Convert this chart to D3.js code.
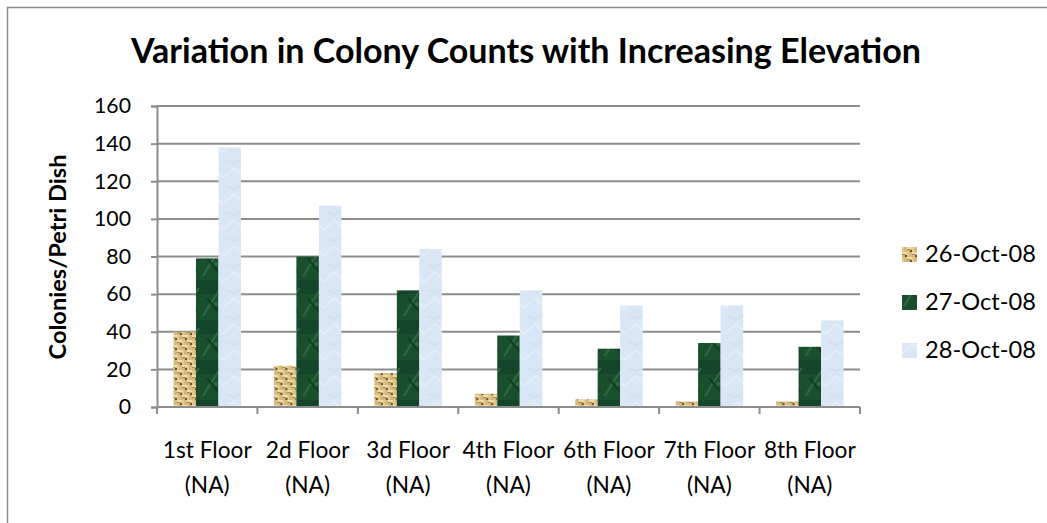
<!DOCTYPE html>
<html>
<head>
<meta charset="utf-8">
<script src="https://cdn.jsdelivr.net/npm/d3@7/dist/d3.min.js"></script>
<style>
  body { margin: 0; background: #fff; }
  text { font-family: Lato, "Open Sans", sans-serif; fill: #000; }
</style>
</head>
<body>
<div id="chart"></div>
<script>
// chart data
var floors = ["1st Floor", "2d Floor", "3d Floor", "4th Floor", "6th Floor", "7th Floor", "8th Floor"];
var floorNotes = ["(NA)", "(NA)", "(NA)", "(NA)", "(NA)", "(NA)", "(NA)"];
var seriesNames = ["26-Oct-08", "27-Oct-08", "28-Oct-08"];
var oct26 = [40, 22, 18, 7, 4, 3, 3];
var oct27 = [79, 80, 62, 38, 31, 34, 32];
var oct28 = [138, 107, 84, 62, 54, 54, 46];
var yTicks = [0, 20, 40, 60, 80, 100, 120, 140, 160];

var W = 1047, H = 523;
var plot = { left: 157, right: 860, top: 106, bottom: 407 };

var svg = d3.select("#chart").append("svg")
    .attr("width", W)
    .attr("height", H);

// font size that makes `sample` come out `target` px wide (Calibri is not installed)
function fitSize(sample, target, weight) {
    var t = svg.append("text").style("font-size", "100px").style("font-weight", weight || "normal").text(sample);
    var w = t.node().getComputedTextLength();
    t.remove();
    return (100 * target / w).toFixed(2) + "px";
}

// fill textures (rough imitation of the Excel picture fills)
var defs = svg.append("defs");

var tan = defs.append("pattern").attr("id", "texTan")
    .attr("patternUnits", "userSpaceOnUse").attr("width", 10).attr("height", 10);
tan.append("rect").attr("width", 10).attr("height", 10).attr("fill", "#d4ba80");
tan.append("rect").attr("x", 0).attr("y", 0).attr("width", 5).attr("height", 2).attr("fill", "#f0dea8");
tan.append("rect").attr("x", 5).attr("y", 5).attr("width", 5).attr("height", 2).attr("fill", "#f0dea8");
tan.append("rect").attr("x", 5).attr("y", 0).attr("width", 2).attr("height", 5).attr("fill", "#e3cb8e");
tan.append("rect").attr("x", 0).attr("y", 5).attr("width", 2).attr("height", 5).attr("fill", "#e3cb8e");
tan.append("rect").attr("x", 3).attr("y", 3).attr("width", 2).attr("height", 2).attr("fill", "#6e5028");
tan.append("rect").attr("x", 8).attr("y", 8).attr("width", 2).attr("height", 2).attr("fill", "#6e5028");
tan.append("rect").attr("x", 0).attr("y", 2).attr("width", 3).attr("height", 1).attr("fill", "#a4844b");
tan.append("rect").attr("x", 5).attr("y", 7).attr("width", 3).attr("height", 1).attr("fill", "#a4844b");

var green = defs.append("pattern").attr("id", "texGreen")
    .attr("patternUnits", "userSpaceOnUse").attr("width", 22).attr("height", 40);
green.append("rect").attr("width", 22).attr("height", 40).attr("fill", "#1a4f2d");
green.append("rect").attr("x", 0).attr("y", 0).attr("width", 22).attr("height", 14).attr("fill", "#14442a");
green.append("path").attr("d", "M2,36 Q10,22 20,8").attr("stroke", "#2f6b42").attr("stroke-width", 2).attr("fill", "none");
green.append("path").attr("d", "M6,18 Q12,26 18,32").attr("stroke", "#0f3a1f").attr("stroke-width", 2).attr("fill", "none");
green.append("circle").attr("cx", 15).attr("cy", 24).attr("r", 2).attr("fill", "#3a7a4e").attr("opacity", 0.7);

var blue = defs.append("pattern").attr("id", "texBlue")
    .attr("patternUnits", "userSpaceOnUse").attr("width", 22).attr("height", 26);
blue.append("rect").attr("width", 22).attr("height", 26).attr("fill", "#d9e6f5");
blue.append("path").attr("d", "M0,22 L11,12 L22,22").attr("stroke", "#e4eefa").attr("stroke-width", 2).attr("fill", "none");
blue.append("path").attr("d", "M3,4 L11,7 L19,3").attr("stroke", "#d0dff1").attr("stroke-width", 1.5).attr("fill", "none");

var fills = ["url(#texTan)", "url(#texGreen)", "url(#texBlue)"];

// outer chart border (only left and top edges fall inside the window)
svg.append("rect")
    .attr("x", 7.5).attr("y", 7.5)
    .attr("width", W + 20).attr("height", H + 20)
    .attr("fill", "none").attr("stroke", "#8c8c8c").attr("stroke-width", 1.5);

// scales
var x0 = d3.scaleBand().domain(floors).range([plot.left, plot.right]);
var x1 = d3.scaleBand().domain(seriesNames).range([0, x0.bandwidth()]).paddingOuter(0.73);
var y = d3.scaleLinear().domain([0, 160]).range([plot.bottom, plot.top]);

// gridlines
svg.append("g").selectAll("line").data(yTicks.slice(1)).enter().append("line")
    .attr("x1", plot.left).attr("x2", plot.right)
    .attr("y1", function (d) { return y(d); }).attr("y2", function (d) { return y(d); })
    .attr("stroke", "#8c8c8c").attr("stroke-width", 2);

// bars
var rows = floors.map(function (f, i) {
    return { floor: f, vals: [oct26[i], oct27[i], oct28[i]] };
});

var groups = svg.append("g").selectAll("g").data(rows).enter().append("g")
    .attr("transform", function (d) { return "translate(" + x0(d.floor) + ",0)"; });

groups.selectAll("rect").data(function (d) {
    return d.vals.map(function (v, k) { return { name: seriesNames[k], value: v, k: k }; });
}).enter().append("rect")
    .attr("x", function (d) { return x1(d.name); })
    .attr("width", x1.bandwidth())
    .attr("y", function (d) { return y(d.value); })
    .attr("height", function (d) { return y(0) - y(d.value); })
    .attr("fill", function (d) { return fills[d.k]; });

// y axis
var tickFont = fitSize("140", 37);
var yAxis = d3.axisLeft(y).tickValues(yTicks).tickSize(6).tickPadding(20);
var yg = svg.append("g").attr("transform", "translate(" + plot.left + ",0)").call(yAxis);
yg.select(".domain").attr("stroke", "#8c8c8c").attr("stroke-width", 2);
yg.selectAll(".tick line").attr("stroke", "#8c8c8c").attr("stroke-width", 2);
yg.selectAll(".tick text").style("font-size", tickFont).style("font-family", "Lato, sans-serif").attr("fill", "#000");

// x axis (ticks between categories)
var xg = svg.append("g").attr("transform", "translate(0," + plot.bottom + ")");
xg.append("line").attr("x1", plot.left).attr("x2", plot.right).attr("stroke", "#8c8c8c").attr("stroke-width", 2);
var bounds = floors.map(function (f) { return x0(f); }).concat([plot.right]);
xg.selectAll("line.tk").data(bounds).enter().append("line").attr("class", "tk")
    .attr("x1", function (d) { return d; }).attr("x2", function (d) { return d; })
    .attr("y1", 0).attr("y2", 7)
    .attr("stroke", "#8c8c8c").attr("stroke-width", 2);

var labelFont = fitSize("1st Floor", 89);
var xl = svg.append("g").selectAll("text").data(floors).enter().append("text")
    .attr("text-anchor", "middle")
    .style("font-size", labelFont)
    .attr("x", function (d) { return x0(d) + x0.bandwidth() / 2; })
    .attr("y", 458);
xl.append("tspan").text(function (d) { return d; });
xl.append("tspan")
    .attr("x", function (d) { return x0(d) + x0.bandwidth() / 2; })
    .attr("dy", 35)
    .text(function (d, i) { return floorNotes[i]; });

// y axis title
svg.append("text")
    .attr("transform", "translate(66,257) rotate(-90)")
    .attr("text-anchor", "middle")
    .style("font-size", fitSize("Colonies/Petri Dish", 205, "bold")).style("font-weight", "bold")
    .text("Colonies/Petri Dish");

// chart title
svg.append("text")
    .attr("x", 526).attr("y", 63)
    .attr("text-anchor", "middle")
    .style("font-size", fitSize("Variation in Colony Counts with Increasing Elevation", 790, "bold"))
    .style("font-weight", "bold")
    .text("Variation in Colony Counts with Increasing Elevation");

// legend
var legendFont = fitSize("26-Oct-08", 111);
var legend = svg.append("g").selectAll("g").data(seriesNames).enter().append("g")
    .attr("transform", function (d, i) { return "translate(902," + (262 + i * 48) + ")"; });
legend.append("rect").attr("x", 0).attr("y", -15).attr("width", 15).attr("height", 15)
    .attr("fill", function (d, i) { return fills[i]; });
legend.append("text").attr("x", 23).attr("y", 0)
    .style("font-size", legendFont)
    .text(function (d) { return d; });
</script>
</body>
</html>
